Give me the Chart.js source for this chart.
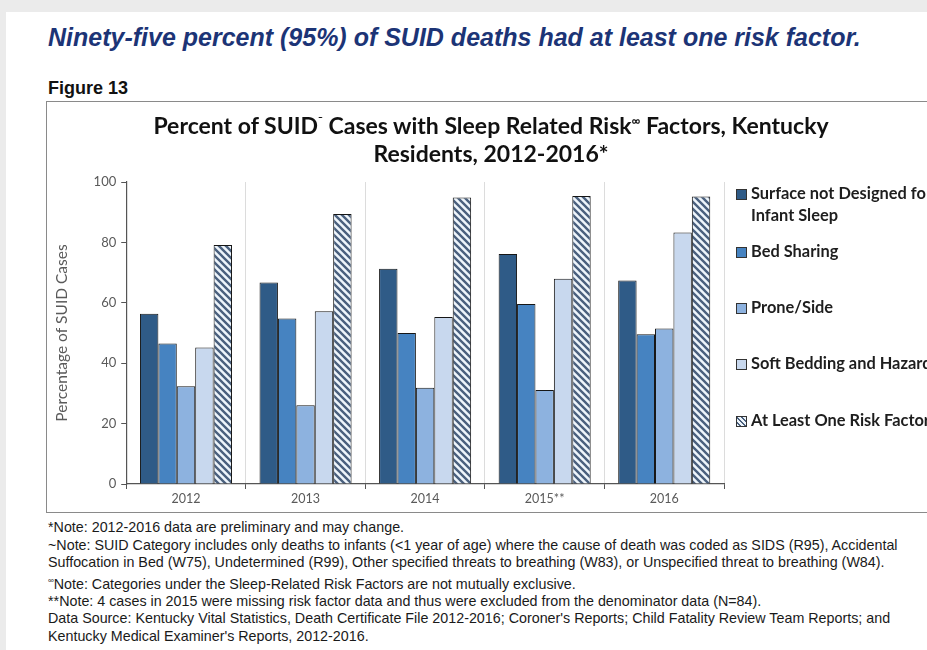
<!DOCTYPE html>
<html>
<head>
<meta charset="utf-8">
<script src="https://cdn.jsdelivr.net/npm/chart.js@4.4.1/dist/chart.umd.min.js"></script>
<style>
  html, body { margin: 0; padding: 0; overflow: hidden; }
  body { width: 927px; height: 650px; background: #ebebeb; position: relative; font-family: "Liberation Sans Narrow", "Liberation Sans", Arial, sans-serif; }
  #page { position: absolute; left: 6px; top: 12px; width: 1000px; height: 700px; background: #fff; }
  #headline { position: absolute; left: 48px; top: 23px; font-size: 25px; font-weight: bold; font-style: italic; color: #1c3476; white-space: nowrap; }
  #figlabel { position: absolute; left: 48px; top: 78px; font-size: 18px; font-weight: bold; color: #111; }
  #box { position: absolute; left: 46px; top: 101px; width: 920px; height: 410px; border: 1.5px solid #8a8a8a; background: #fff; }
  #chartWrap { position: absolute; left: 0; top: 0; width: 920px; height: 410px; }
  #chartTitle { position: absolute; left: 44px; width: 800px; top: 9px; text-align: center; font-family: Lato, "Open Sans", sans-serif; font-weight: bold; font-size: 23px; line-height: 28px; color: #111; white-space: nowrap; }
  #legend { position: absolute; left: 689px; top: 80px; width: 260px; font-family: Lato, "Open Sans", sans-serif; font-weight: bold; font-size: 16.4px; color: #1e1e1e; }
  .item { position: absolute; left: 0; white-space: nowrap; line-height: 22px; }
  .sw { display: inline-block; width: 11px; height: 11px; border: 1px solid #333; margin-right: 4px; vertical-align: -1px; box-sizing: border-box; }
  #notes { position: absolute; left: 48px; top: 519px; font-size: 14.3px; line-height: 17.5px; color: #1a1a1a; white-space: nowrap; }
</style>
</head>
<body>
<div id="page"></div>
<div id="headline">Ninety-five percent (95%) of SUID deaths had at least one risk factor.</div>
<div id="figlabel">Figure 13</div>
<div id="box">
  <div id="chartWrap"><canvas id="riskChart" width="920" height="410"></canvas></div>
  <div id="chartTitle">Percent of SUID<sup style="font-size:12px;line-height:0">˜</sup> Cases with Sleep Related Risk<sup style="font-size:12px;line-height:0">∞</sup> Factors, Kentucky<br>Residents, 2012-2016*</div>
  <div id="legend"></div>
</div>
<div id="notes">
  *Note: 2012-2016 data are preliminary and may change.<br>
  ~Note: SUID Category includes only deaths to infants (&lt;1 year of age) where the cause of death was coded as SIDS (R95), Accidental<br>
  Suffocation in Bed (W75), Undetermined (R99), Other specified threats to breathing (W83), or Unspecified threat to breathing (W84).<br>
  <sup style="font-size:8px">∞</sup>Note: Categories under the Sleep-Related Risk Factors are not mutually exclusive.<br>
  **Note: 4 cases in 2015 were missing risk factor data and thus were excluded from the denominator data (N=84).<br>
  Data Source: Kentucky Vital Statistics, Death Certificate File 2012-2016; Coroner's Reports; Child Fatality Review Team Reports; and<br>
  Kentucky Medical Examiner's Reports, 2012-2016.
</div>
<script>
const years = ["2012", "2013", "2014", "2015**", "2016"]
const seriesNames = ["Surface not Designed for Infant Sleep", "Bed Sharing", "Prone/Side", "Soft Bedding and Hazards", "At Least One Risk Factor"]
const surfaceNotDesigned = [56.4, 66.7, 71.3, 76.2, 67.4]
const bedSharing = [46.5, 54.8, 50.0, 59.6, 49.6]
const proneSide = [32.4, 26.1, 31.9, 31.1, 51.5]
const softBedding = [45.2, 57.2, 55.3, 68.0, 83.3]
const atLeastOne = [79.1, 89.4, 94.9, 95.4, 95.2]
const yTicks = [0, 20, 40, 60, 80, 100]

// diagonal hatch for the "at least one" bars
function makeHatch(){
  const c = document.createElement("canvas")
  c.width = 7; c.height = 7
  const g = c.getContext("2d")
  g.fillStyle = "#eef5fb"
  g.fillRect(0, 0, 7, 7)
  g.strokeStyle = "#4a607e"
  g.lineWidth = 2.4
  g.beginPath()
  g.moveTo(-2, -2); g.lineTo(9, 9)
  g.moveTo(-2, 5); g.lineTo(2, 9)
  g.moveTo(5, -2); g.lineTo(9, 2)
  g.stroke()
  return g.createPattern(c, "repeat")
}
const hatch = makeHatch()
const fills = ["#2f5b87", "#4683c1", "#8db2df", "#c8d8ee", hatch]
const values = [surfaceNotDesigned, bedSharing, proneSide, softBedding, atLeastOne]

// legend built in html so the long label can wrap like the original
const legendTops = [0, 58, 114, 170, 227]
const legendText = ["Surface not Designed for<br>Infant Sleep", "Bed Sharing", "Prone/Side", "Soft Bedding and Hazards", "At Least One Risk Factor"]
const legend = document.getElementById("legend")
legendText.forEach((t, i) => {
  const it = document.createElement("div")
  it.className = "item"
  it.style.top = legendTops[i] + "px"
  const sw = document.createElement("span")
  sw.className = "sw"
  if (i === 4) {
    sw.style.background = "repeating-linear-gradient(45deg, #eef5fb 0 2px, #4a607e 2px 3.5px)"
  } else {
    sw.style.background = fills[i]
  }
  it.appendChild(sw)
  const lab = document.createElement("span")
  lab.innerHTML = t.replace("<br>", "<br><span style='margin-left:15px'></span>")
  it.appendChild(lab)
  legend.appendChild(it)
})

const ctx = document.getElementById("riskChart").getContext("2d")
const myChart = new Chart(ctx, {
  type: "bar",
  data: {
    labels: years,
    datasets: values.map((v, i) => ({
      label: seriesNames[i],
      data: v,
      backgroundColor: fills[i],
      borderColor: "#161616",
      borderWidth: 1,
      borderSkipped: "bottom",
      categoryPercentage: 0.77,
      barPercentage: 1.0,
    })),
  },
  options: {
    responsive: false,
    animation: false,
    devicePixelRatio: 1,
    layout: { padding: { left: 6, right: 243, top: 80, bottom: 4 } },
    plugins: {
      legend: { display: false },
      tooltip: { enabled: false },
      title: { display: false },
    },
    scales: {
      x: {
        offset: true,
        grid: { display: true, offset: true, color: "#dcdcdc", tickLength: 5, tickColor: "#555" },
        border: { color: "#555", width: 1.2 },
        ticks: { color: "#5a5a5a", font: { family: "Lato, 'Open Sans', sans-serif", size: 12.5 }, padding: 2 },
      },
      y: {
        min: 0,
        max: 100,
        afterBuildTicks: axis => { axis.ticks = yTicks.map(v => ({ value: v })) },
        grid: { drawOnChartArea: false, tickLength: 5, color: "#555" },
        border: { color: "#555", width: 1.2 },
        ticks: { color: "#5a5a5a", font: { family: "Lato, 'Open Sans', sans-serif", size: 13 }, padding: 5 },
        title: {
          display: true,
          text: "Percentage of SUID Cases",
          color: "#5a5a5a",
          font: { family: "Lato, 'Open Sans', sans-serif", size: 15.5 },
          padding: { top: 0, bottom: 17 },
        },
      },
    },
  },
})
</script>
</body>
</html>
